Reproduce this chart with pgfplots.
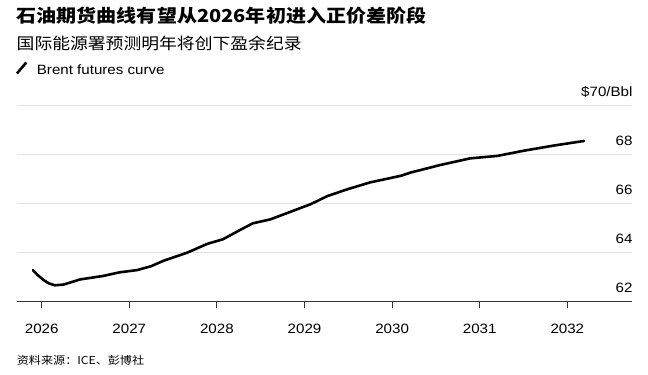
\documentclass[border=0pt]{standalone}
\usepackage{fontspec}
\usepackage{pgfplots}
\pgfplotsset{compat=1.18}
\setmainfont{Liberation Sans}[FakeStretch=1.12]
\newfontfamily\cjk{Noto Sans CJK SC}[FakeStretch=1.12]
\definecolor{gridc}{HTML}{E3E3E3}
\definecolor{axc}{HTML}{333333}
\begin{document}
\begin{tikzpicture}
\path[use as bounding box] (0,0) rectangle (648bp,375bp);
\node[anchor=west, inner sep=0pt] at (16.5bp,359.7bp) {\cjk\bfseries\fontsize{17.9bp}{20bp}\selectfont 石油期货曲线有望从2026年初进入正价差阶段};
\node[anchor=west, inner sep=0pt] at (16.5bp,331.7bp) {\cjk\fontsize{15.9bp}{18bp}\selectfont 国际能源署预测明年将创下盈余纪录};
\draw[line width=2.6bp, black] (16.9bp,301.5bp) -- (26.3bp,312.5bp);
\node[anchor=base west, inner sep=0pt] at (36.7bp,300bp) {\fontsize{13.5bp}{16bp}\selectfont Brent futures curve};
\node[anchor=west, inner sep=0pt] at (16.7bp,14.5bp) {\cjk\fontsize{10.8bp}{13bp}\selectfont 资料来源：ICE、彭博社};
\begin{axis}[
  at={(17bp,73.3bp)}, anchor=south west,
  scale only axis, width=614.7bp, height=196bp,
  xmin=2025.718, xmax=2032.735, ymin=62, ymax=70,
  axis x line*=bottom, axis y line*=right,
  x axis line style={-, draw=axc, line width=1bp},
  y axis line style={draw=none},
  xtick={2026,2027,2028,2029,2030,2031,2032},
  xticklabels={2026,2027,2028,2029,2030,2031,2032},
  xtick align=outside, major tick length=6bp,
  xtick style={draw=axc, line width=1bp},
  ytick={62,64,66,68,70},
  yticklabels={62,64,66,68,\$70/Bbl},
  ytick style={draw=none},
  ymajorgrids, grid style={draw=gridc, line width=1.2bp},
  /pgf/number format/assume math mode=true,
  xticklabel style={font=\fontsize{13.5bp}{16bp}\selectfont, anchor=base, inner sep=0pt, yshift=-25.6bp, text=black},
  yticklabel style={font=\fontsize{13.5bp}{16bp}\selectfont, anchor=base east, inner sep=0pt, xshift=1bp, yshift=9bp, text=black},
  clip=false,
]
\addplot[black, line width=2.6bp, line join=round, line cap=round] coordinates {
(2025.90,63.29) (2025.95,63.10) (2026.02,62.89) (2026.08,62.75) (2026.15,62.67)
(2026.25,62.70) (2026.44,62.91) (2026.70,63.05) (2026.89,63.20) (2027.09,63.29)
(2027.25,63.45) (2027.39,63.67) (2027.66,64.00) (2027.89,64.36) (2028.07,64.55)
(2028.25,64.90) (2028.41,65.20) (2028.61,65.36) (2028.84,65.67) (2029.07,65.98)
(2029.26,66.31) (2029.49,66.59) (2029.75,66.87) (2030.10,67.14) (2030.21,67.27)
(2030.55,67.58) (2030.89,67.85) (2031.20,67.95) (2031.50,68.16) (2031.84,68.37)
(2032.19,68.56)
};
\end{axis}
\end{tikzpicture}
\end{document}
